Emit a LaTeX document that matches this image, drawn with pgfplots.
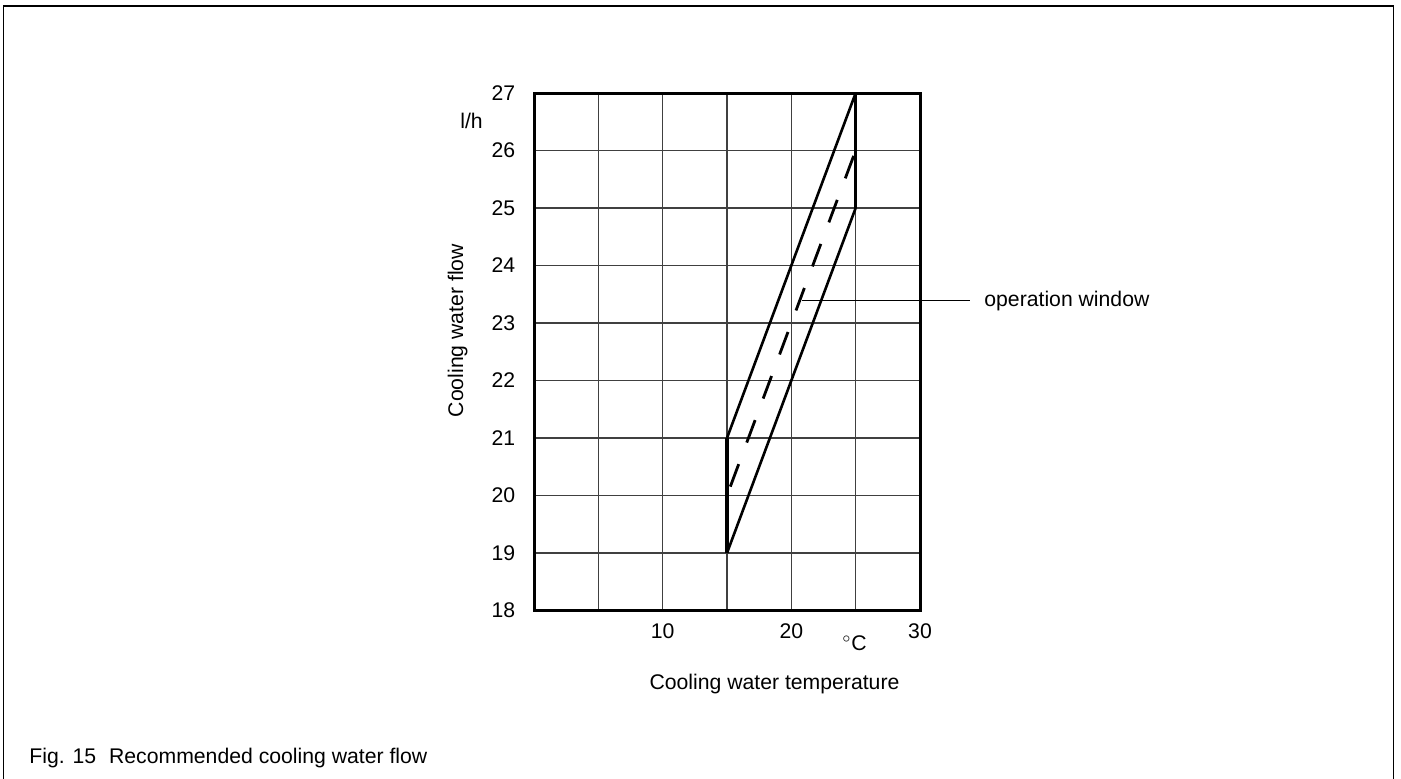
\documentclass[border=0pt]{standalone}
\usepackage{pgfplots}
\pgfplotsset{compat=1.18}
\usepackage{fontspec}
\setmainfont{Liberation Sans}
\begin{document}
\fontsize{10.6}{12.7}\selectfont
\begin{tikzpicture}[font=\fontsize{10.6}{12.7}\selectfont]
\begin{axis}[
  at={(0,0)}, anchor=south west,
  scale only axis, width=193pt, height=258.75pt,
  xmin=0, xmax=30, ymin=18, ymax=27,
  xtick={5,10,15,20,25,30}, xticklabels={,10,,20,,30},
  ytick={18,19,20,21,22,23,24,25,26,27},
  major tick length=0pt,
  grid=major,
  major grid style={black!75, line width=0.6pt},
  axis line style={line width=1.5pt},
  /pgf/number format/assume math mode=true,
  xticklabel style={anchor=base, yshift=-13.75pt},
  yticklabel style={anchor=east, xshift=-5.7pt},
  clip=false,
]
\addplot[line width=1.3pt, black] coordinates {(15,19) (25,25)};
\addplot[line width=1.3pt, black] coordinates {(15,21) (25,27)};
\addplot[line width=1.8pt, black] coordinates {(15,19) (15,21)};
\addplot[line width=1.8pt, black] coordinates {(25,25) (25,27)};
\addplot[line width=1.4pt, black, dash pattern=on 12pt off 11.5pt, dash phase=18.75pt] coordinates {(15,20) (25,26)};
\draw[line width=0.6pt] (axis cs:20.83,23.39) -- (axis cs:33.89,23.39);
\end{axis}
\node[anchor=base, rotate=90, inner sep=0pt] at (-35.5pt,140pt) {Cooling water flow};
\node[anchor=base, inner sep=0pt] at (-31.25pt,241.25pt) {l/h};
\node[anchor=base, inner sep=0pt] at (160.25pt,-19.75pt) {$^\circ$C};
\node[anchor=base, inner sep=0pt] at (120.25pt,-39.25pt) {Cooling water temperature};
\node[anchor=base west, inner sep=0pt] at (225pt,152.25pt) {operation window};
\node[anchor=base west, inner sep=0pt] at (-252.5pt,-76.25pt) {Fig. 15\hspace{6.5pt}Recommended cooling water flow};
\draw[line width=0.7pt] (-265.35pt,-90pt) -- (-265.35pt,302.25pt) -- (429.65pt,302.25pt) -- (429.65pt,-90pt);
\pgfresetboundingbox
\path[use as bounding box] (-267pt,-83.75pt) rectangle (433.5pt,305.25pt);
\end{tikzpicture}
\end{document}
